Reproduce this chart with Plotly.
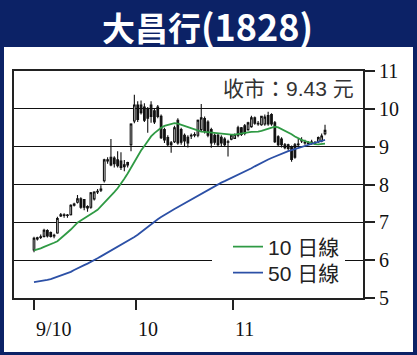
import plotly.graph_objects as go

# ---------------- data ----------------
opens = [6.27, 6.56, 6.60, 6.63, 6.78, 6.73, 6.64, 6.72, 7.17, 7.18,
         7.18, 7.20, 7.45, 7.53, 7.62, 7.60, 7.42, 7.40, 7.62, 7.80,
         7.85, 8.10, 8.62, 8.72, 8.70, 8.65, 8.62, 8.52, 8.58, 9.05,
         9.68, 10.10, 10.10, 10.05, 9.98, 10.10, 9.95, 10.05, 9.80, 9.45,
         9.24, 9.10, 9.13, 9.70, 9.45, 9.30, 9.25, 9.30, 9.30, 9.30,
         9.45, 9.74, 9.65, 9.45, 9.30, 9.30, 9.25, 9.20, 9.13, 9.20,
         9.22, 9.50, 9.50, 9.55, 9.45, 9.53, 9.76, 9.62, 9.58, 9.60,
         9.82, 9.85, 9.63, 9.26, 9.20, 9.05, 9.05, 9.00, 9.05, 9.05,
         9.15, 9.12, 9.10, 9.10, 9.10, 9.13, 9.15, 9.34]
highs = [6.62, 6.62, 6.68, 6.83, 6.82, 6.76, 6.70, 7.15, 7.25, 7.24,
         7.22, 7.48, 7.52, 7.72, 7.66, 7.62, 7.45, 7.80, 7.82, 7.88,
         7.98, 8.68, 8.72, 9.20, 8.75, 8.88, 8.85, 8.65, 8.60, 9.62,
         10.37, 10.20, 10.22, 10.15, 10.05, 10.20, 10.00, 10.10, 9.85, 9.50,
         9.30, 9.15, 9.55, 9.75, 9.50, 9.35, 9.30, 9.35, 9.38, 9.72,
         10.13, 9.80, 9.70, 9.50, 9.35, 9.35, 9.30, 9.25, 9.18, 9.33,
         9.35, 9.55, 9.52, 9.60, 9.66, 9.82, 9.80, 9.68, 9.82, 9.85,
         9.92, 9.88, 9.68, 9.30, 9.25, 9.10, 9.08, 9.03, 9.10, 9.20,
         9.25, 9.18, 9.15, 9.18, 9.15, 9.27, 9.35, 9.58]
lows = [6.21, 6.52, 6.56, 6.60, 6.60, 6.60, 6.58, 6.70, 7.14, 7.12,
        7.12, 7.18, 7.42, 7.50, 7.36, 7.32, 7.28, 7.36, 7.58, 7.75,
        7.80, 8.05, 8.55, 8.48, 8.45, 8.45, 8.38, 8.35, 8.45, 8.88,
        9.62, 9.65, 9.85, 9.65, 9.37, 9.63, 9.60, 9.75, 9.20, 9.10,
        9.00, 8.84, 9.10, 9.05, 9.05, 9.02, 8.98, 9.20, 9.25, 9.25,
        9.40, 9.35, 9.25, 8.97, 9.05, 9.00, 9.02, 9.00, 8.74, 9.17,
        9.20, 9.25, 9.28, 9.30, 9.42, 9.50, 9.58, 9.55, 9.55, 9.55,
        9.55, 9.55, 9.10, 9.00, 8.98, 8.93, 8.90, 8.60, 8.68, 9.00,
        9.10, 9.05, 9.05, 9.05, 9.05, 9.10, 9.12, 9.30]
closes = [6.58, 6.59, 6.62, 6.79, 6.64, 6.63, 6.66, 7.10, 7.20, 7.20,
          7.19, 7.45, 7.48, 7.62, 7.40, 7.40, 7.38, 7.78, 7.80, 7.82,
          7.88, 8.65, 8.65, 8.52, 8.55, 8.50, 8.45, 8.47, 8.52, 9.60,
          10.10, 9.72, 9.90, 9.70, 9.75, 9.80, 9.65, 9.80, 9.24, 9.18,
          9.05, 9.05, 9.50, 9.10, 9.12, 9.15, 9.10, 9.28, 9.32, 9.70,
          9.76, 9.40, 9.30, 9.10, 9.12, 9.05, 9.10, 9.05, 9.12, 9.30,
          9.32, 9.30, 9.32, 9.35, 9.63, 9.76, 9.62, 9.60, 9.80, 9.78,
          9.60, 9.60, 9.13, 9.05, 9.05, 8.97, 8.95, 8.66, 8.72, 9.07,
          9.17, 9.10, 9.08, 9.12, 9.08, 9.24, 9.28, 9.43]
ma10 = [6.26, 6.28, 6.31, 6.35, 6.38, 6.42, 6.46, 6.50, 6.57, 6.64,
        6.73, 6.81, 6.90, 6.99, 7.05, 7.10, 7.15, 7.21, 7.27, 7.33,
        7.42, 7.52, 7.62, 7.71, 7.80, 7.90, 8.01, 8.15, 8.29, 8.45,
        8.62, 8.78, 8.90, 9.02, 9.15, 9.27, 9.36, 9.44, 9.50, 9.55,
        9.58, 9.61, 9.62, 9.61, 9.58, 9.54, 9.50, 9.47, 9.44, 9.42,
        9.40, 9.39, 9.38, 9.37, 9.36, 9.35, 9.34, 9.33, 9.32, 9.32,
        9.32, 9.34, 9.36, 9.37, 9.38, 9.39, 9.39, 9.40, 9.42, 9.45,
        9.49, 9.52, 9.53, 9.51, 9.47, 9.43, 9.38, 9.33, 9.27, 9.22,
        9.18, 9.15, 9.12, 9.09, 9.07, 9.06, 9.07, 9.08]
ma50 = [5.42, 5.43, 5.44, 5.46, 5.48, 5.50, 5.53, 5.56, 5.59, 5.62,
        5.65, 5.69, 5.74, 5.79, 5.83, 5.87, 5.91, 5.95, 6.00, 6.05,
        6.10, 6.15, 6.20, 6.25, 6.30, 6.35, 6.40, 6.44, 6.49, 6.55,
        6.61, 6.67, 6.74, 6.81, 6.89, 6.96, 7.02, 7.08, 7.14, 7.20,
        7.25, 7.30, 7.35, 7.40, 7.45, 7.50, 7.55, 7.60, 7.65, 7.70,
        7.76, 7.82, 7.87, 7.92, 7.97, 8.01, 8.05, 8.09, 8.13, 8.17,
        8.21, 8.25, 8.29, 8.33, 8.38, 8.43, 8.48, 8.53, 8.58, 8.62,
        8.66, 8.70, 8.74, 8.78, 8.82, 8.85, 8.88, 8.91, 8.94, 8.97,
        9.00, 9.03, 9.05, 9.08, 9.10, 9.13, 9.15, 9.18]
days = list(range(len(closes)))

x_tick_pos = [0, 30.5, 59.5]
x_tick_labels = ["9/10", "10", "11"]
y_ticks = [5, 6, 7, 8, 9, 10, 11]

title_name = "大昌行"
title_code = "(1828)"
close_text = "收市：9.43 元"
ma10_name = "10 日線"
ma50_name = "50 日線"

# ---------------- layout geometry (pixels) ----------------
W, H = 417, 355
PL, PR, PT, PB = 14, 363, 71, 298
pw, ph = PR - PL, PB - PT


def px(x):
    return (x - PL) / pw


def py(y):
    return (PB - y) / ph


NAVY = "#0c2266"
GREEN = "#2f9a44"
BLUE = "#2c50a6"
SERIF = "Liberation Serif, Times New Roman, serif"
SANS = "Liberation Sans, Arial, Noto Sans CJK TC, sans-serif"

fig = go.Figure()
fig.add_trace(go.Candlestick(
    x=days, open=opens, high=highs, low=lows, close=closes,
    increasing=dict(line=dict(color="#111111", width=1.1), fillcolor="white"),
    decreasing=dict(line=dict(color="#111111", width=1.1), fillcolor="#111111"),
    whiskerwidth=0, showlegend=False, hoverinfo="skip",
))
fig.add_trace(go.Scatter(x=days, y=ma10, mode="lines", name=ma10_name,
                         line=dict(color=GREEN, width=1.8), legend="legend"))
fig.add_trace(go.Scatter(x=days, y=ma50, mode="lines", name=ma50_name,
                         line=dict(color=BLUE, width=1.8), legend="legend2"))

legend_common = dict(xanchor="right", yanchor="middle", bgcolor="rgba(0,0,0,0)",
                     borderwidth=0, font=dict(family=SANS, size=21, color="#222"),
                     itemwidth=30)

fig.update_layout(
    width=W, height=H,
    margin=dict(l=PL, r=W - PR, t=PT, b=H - PB, pad=0),
    paper_bgcolor=NAVY, plot_bgcolor="white",
    xaxis=dict(range=[(PL - 34) / 3.345, (PR - 34) / 3.345],
               tickvals=x_tick_pos, ticktext=x_tick_labels,
               ticks="outside", ticklen=10, tickwidth=2, tickcolor="#222",
               ticklabelposition="outside right", ticklabelstandoff=12,
               tickfont=dict(family=SERIF, size=20, color="#111"),
               showgrid=False, zeroline=False,
               showline=True, linecolor="#222", linewidth=2, mirror=True,
               rangeslider=dict(visible=False), fixedrange=True),
    yaxis=dict(range=[5, 11], side="right", tickvals=y_ticks,
               ticks="outside", ticklen=10, tickwidth=2, tickcolor="#222",
               tickfont=dict(family=SERIF, size=20, color="#111"),
               showgrid=True, gridcolor="#111", gridwidth=1, zeroline=False,
               showline=True, linecolor="#222", linewidth=2, mirror=True,
               fixedrange=True),
    legend=dict(x=px(345), y=py(247), **legend_common),
    legend2=dict(x=px(345), y=py(273), **legend_common),
    shapes=[
        dict(type="rect", xref="paper", yref="paper",
             x0=px(4), x1=px(413), y0=py(352), y1=py(47),
             fillcolor="white", line=dict(width=0), layer="below"),
        dict(type="rect", xref="paper", yref="paper",
             x0=px(212), x1=px(345), y0=py(284), y1=py(237),
             fillcolor="white", line=dict(width=0), layer="above"),
    ],
    annotations=[
        dict(text=f"<span style='font-size:33px'>{title_name}</span>{title_code}",
             xref="paper", yref="paper", x=px(207.5), y=py(25),
             xanchor="center", yanchor="middle", showarrow=False,
             font=dict(family="Noto Sans CJK TC, sans-serif", size=36, color="white",
                       weight="bold")),
        dict(text=close_text, xref="paper", yref="paper", x=px(356), y=py(89),
             xanchor="right", yanchor="middle", showarrow=False,
             font=dict(family=SANS, size=21, color="#333")),
    ],
)

fig.write_html("out.html")
